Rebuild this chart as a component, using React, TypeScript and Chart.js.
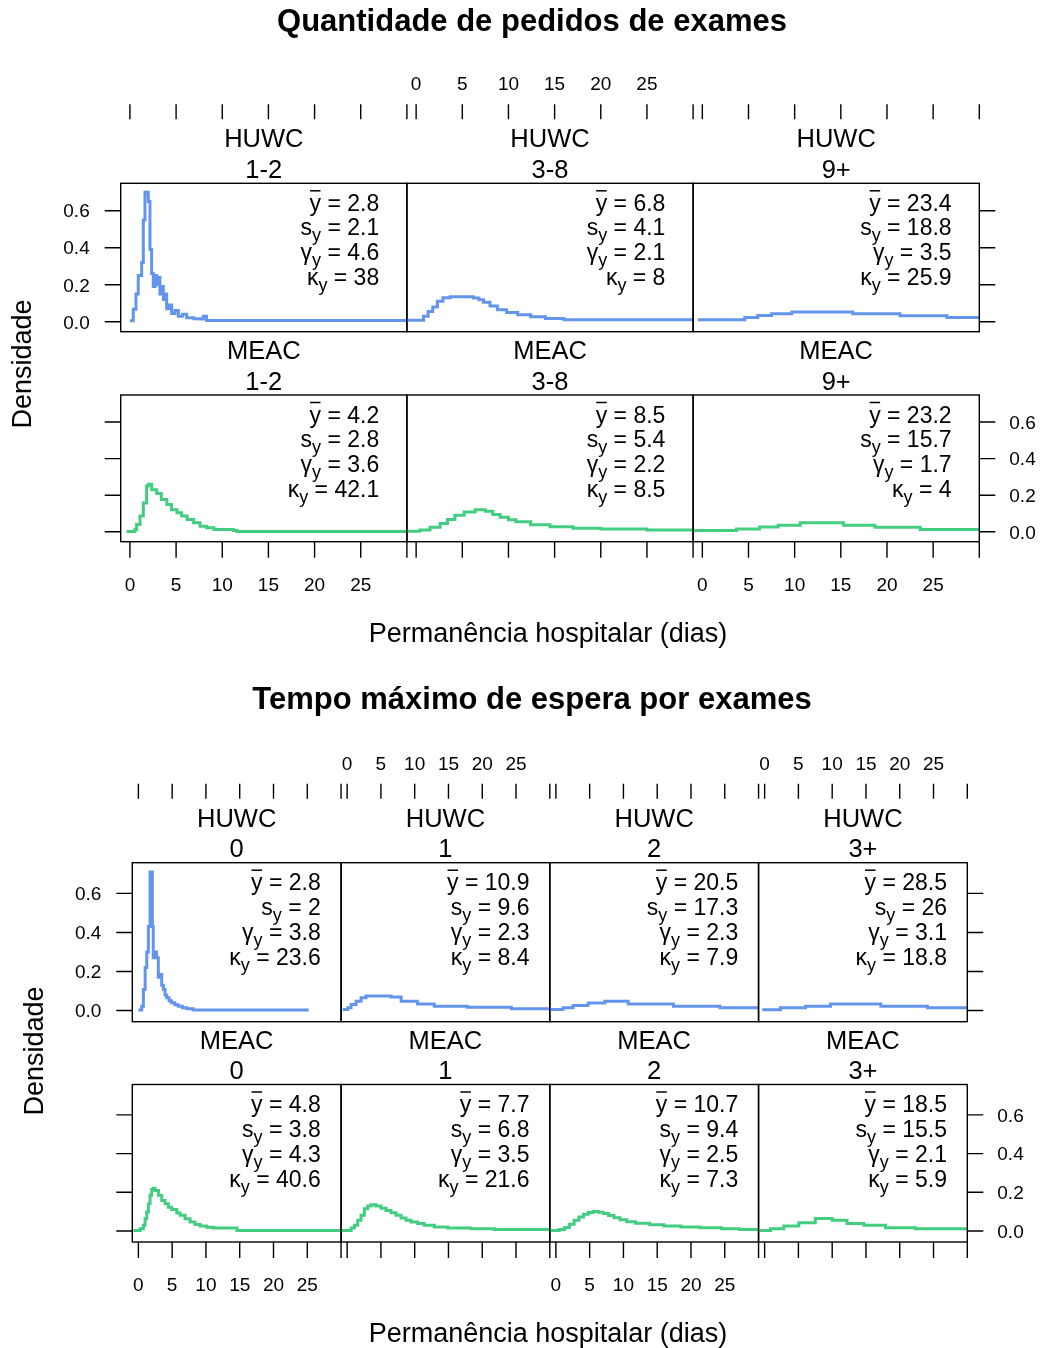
import React, { useEffect, useRef } from "react";
import { Chart, registerables } from "chart.js";

Chart.register(...registerables);

const FONT = '"Liberation Sans", Arial, Helvetica, sans-serif';
const BLUE = "#6495ED";
const GREEN = "#43CD80";

// ---------- categories and labels ----------
const hospitals = ["HUWC", "MEAC"];
const fig1Groups = ["1-2", "3-8", "9+"];
const fig2Groups = ["0", "1", "2", "3+"];
const fig1Title = "Quantidade de pedidos de exames";
const fig2Title = "Tempo máximo de espera por exames";
const xAxisTitle = "Permanência hospitalar (dias)";
const yAxisTitle = "Densidade";
const xTickValues = [0, 5, 10, 15, 20, 25, 30];
const xTickLabels = ["0", "5", "10", "15", "20", "25", ""];
const yTickValues = [0, 0.2, 0.4, 0.6];
const yTickLabels = ["0.0", "0.2", "0.4", "0.6"];
const statTextX = 27;

// ---------- summary statistics ----------
const fig1HuwcMean = [2.8, 6.8, 23.4];
const fig1HuwcSd = [2.1, 4.1, 18.8];
const fig1HuwcSkew = [4.6, 2.1, 3.5];
const fig1HuwcKurt = [38, 8, 25.9];
const fig1MeacMean = [4.2, 8.5, 23.2];
const fig1MeacSd = [2.8, 5.4, 15.7];
const fig1MeacSkew = [3.6, 2.2, 1.7];
const fig1MeacKurt = [42.1, 8.5, 4];

const fig2HuwcMean = [2.8, 10.9, 20.5, 28.5];
const fig2HuwcSd = [2, 9.6, 17.3, 26];
const fig2HuwcSkew = [3.8, 2.3, 2.3, 3.1];
const fig2HuwcKurt = [23.6, 8.4, 7.9, 18.8];
const fig2MeacMean = [4.8, 7.7, 10.7, 18.5];
const fig2MeacSd = [3.8, 6.8, 9.4, 15.5];
const fig2MeacSkew = [4.3, 3.5, 2.5, 2.1];
const fig2MeacKurt = [40.6, 21.6, 7.3, 5.9];

// ---------- density curves (x = dias, y = densidade) ----------
// Figure 1, HUWC
const f1Huwc12X = [0, 0.36, 0.65, 0.9, 1.27, 1.45, 1.63, 1.99, 2.17, 2.35, 2.53, 2.71, 2.89, 3.07, 3.25, 3.44, 3.62, 3.8, 3.98, 4.25, 4.52, 4.88, 5.24, 5.7, 6.15, 6.9, 7.6, 7.95, 8.3, 30];
const f1Huwc12Y = [0.005, 0.068, 0.15, 0.25, 0.32, 0.55, 0.7, 0.65, 0.39, 0.26, 0.19, 0.25, 0.2, 0.24, 0.15, 0.19, 0.12, 0.15, 0.07, 0.09, 0.045, 0.06, 0.03, 0.04, 0.022, 0.016, 0.014, 0.03, 0.006, 0.006];
const f1Huwc38X = [-1, 0.8, 1.3, 1.8, 2.3, 2.9, 3.7, 6.2, 6.8, 7.3, 8.0, 8.8, 9.8, 11, 12.4, 14, 16, 30];
const f1Huwc38Y = [0.008, 0.03, 0.055, 0.08, 0.11, 0.13, 0.135, 0.128, 0.118, 0.105, 0.085, 0.065, 0.05, 0.038, 0.027, 0.018, 0.01, 0.01];
const f1Huwc9X = [-0.5, 4.6, 6.0, 7.5, 9.7, 16.3, 21.4, 26.5, 30];
const f1Huwc9Y = [0.011, 0.023, 0.034, 0.043, 0.052, 0.043, 0.032, 0.023, 0.023];
// Figure 1, MEAC
const f1Meac12X = [-0.36, 0.54, 0.72, 1.09, 1.45, 1.81, 1.99, 2.36, 2.9, 3.4, 4.0, 4.5, 5.1, 5.6, 6.2, 6.9, 7.6, 8.3, 9.1, 11.2, 11.6, 30];
const f1Meac12Y = [0.002, 0.013, 0.04, 0.086, 0.158, 0.25, 0.26, 0.23, 0.21, 0.177, 0.15, 0.12, 0.104, 0.086, 0.067, 0.049, 0.031, 0.022, 0.013, 0.007, 0.002, 0.002];
const f1Meac38X = [-1, 0.4, 1.5, 2.6, 3.4, 4.2, 5.2, 6.4, 7.5, 8.3, 9.1, 10.0, 10.8, 12.4, 14.5, 17, 20, 25, 30];
const f1Meac38Y = [0.003, 0.01, 0.025, 0.045, 0.068, 0.09, 0.108, 0.12, 0.112, 0.095, 0.08, 0.066, 0.055, 0.038, 0.028, 0.02, 0.015, 0.01, 0.01];
const f1Meac9X = [-1, 3.7, 6.2, 8.2, 10.6, 15.3, 18.7, 23.6, 30];
const f1Meac9Y = [0.007, 0.016, 0.027, 0.036, 0.049, 0.036, 0.025, 0.013, 0.013];

// Figure 2, HUWC
const f2Huwc0X = [0, 0.5, 0.74, 1.0, 1.24, 1.48, 1.73, 2.07, 2.2, 2.47, 2.7, 2.95, 3.2, 3.45, 3.7, 3.95, 4.2, 4.55, 4.9, 5.4, 5.9, 6.5, 7.2, 8.1, 25.2];
const f2Huwc0Y = [0.003, 0.022, 0.108, 0.22, 0.3, 0.43, 0.71, 0.43, 0.27, 0.3, 0.27, 0.17, 0.185, 0.13, 0.108, 0.08, 0.065, 0.05, 0.04, 0.03, 0.022, 0.015, 0.009, 0.003, 0.003];
const f2Huwc1X = [-0.66, 0.09, 0.58, 1.32, 2.06, 2.8, 6.5, 8.0, 10.4, 12.9, 17.8, 24.3, 30];
const f2Huwc1Y = [0.005, 0.014, 0.031, 0.048, 0.065, 0.074, 0.069, 0.048, 0.034, 0.022, 0.017, 0.009, 0.009];
const f2Huwc2X = [-0.9, 1.07, 2.55, 4.77, 7.24, 10.7, 17.4, 24.3, 30];
const f2Huwc2Y = [0.005, 0.014, 0.026, 0.039, 0.048, 0.034, 0.022, 0.014, 0.014];
const f2Huwc3X = [-0.36, 2.35, 6.05, 9.75, 17.2, 24.1, 30];
const f2Huwc3Y = [0.004, 0.014, 0.022, 0.034, 0.022, 0.014, 0.014];
// Figure 2, MEAC
const f2Meac0X = [-0.74, 0.25, 0.74, 0.99, 1.24, 1.48, 1.73, 1.97, 2.22, 2.47, 2.97, 3.46, 3.95, 4.44, 4.94, 5.68, 6.17, 6.91, 7.65, 8.39, 9.13, 10.1, 11.1, 14.6, 30];
const f2Meac0Y = [0.003, 0.012, 0.029, 0.063, 0.098, 0.141, 0.184, 0.214, 0.221, 0.209, 0.184, 0.158, 0.141, 0.123, 0.111, 0.093, 0.081, 0.063, 0.046, 0.034, 0.026, 0.019, 0.015, 0.003, 0.003];
const f2Meac1X = [-0.9, 0.58, 1.07, 1.56, 2.06, 2.55, 3.04, 3.54, 4.28, 5.02, 5.76, 6.5, 7.24, 7.98, 8.72, 9.46, 10.45, 11.4, 12.9, 14.9, 18.3, 21.8, 30];
const f2Meac1Y = [0.003, 0.015, 0.029, 0.055, 0.081, 0.115, 0.129, 0.136, 0.129, 0.118, 0.106, 0.094, 0.081, 0.067, 0.055, 0.046, 0.038, 0.029, 0.021, 0.015, 0.012, 0.007, 0.007];
const f2Meac2X = [-0.9, 0.5, 1.3, 2, 2.7, 3.4, 4.1, 4.8, 5.5, 6.3, 7.0, 7.8, 8.6, 9.5, 10.5, 11.8, 13.9, 16, 18.5, 21.3, 24.5, 27.2, 30];
const f2Meac2Y = [0.003, 0.008, 0.018, 0.035, 0.055, 0.072, 0.086, 0.096, 0.1, 0.097, 0.09, 0.08, 0.068, 0.058, 0.048, 0.04, 0.032, 0.026, 0.021, 0.017, 0.012, 0.007, 0.007];
const f2Meac3X = [-0.9, 0.87, 2.84, 5.06, 7.5, 10, 12.2, 14.7, 17.9, 22.3, 30];
const f2Meac3Y = [0.003, 0.012, 0.026, 0.043, 0.064, 0.055, 0.038, 0.029, 0.017, 0.012, 0.012];

// ---------- layout of the two lattice figures (page pixels) ----------
type Fig = {
  top: number; height: number; left: number; panelW: number;
  rowTop: number[]; rowH: number[];
  xMin: number; xMax: number; yMin: number; yMax: number;
  nCols: number; title: string; titleY: number; xlabY: number; ylabX: number; ylabY: number;
};

const FIG1: Fig = {
  top: 0, height: 662, left: 120.7, panelW: 286.2,
  rowTop: [183.3, 395], rowH: [148.4, 146.7],
  xMin: -1, xMax: 30, yMin: -0.054, yMax: 0.748,
  nCols: 3, title: fig1Title, titleY: 31, xlabY: 642, ylabX: 24, ylabY: 364,
};
const FIG2: Fig = {
  top: 662, height: 686, left: 132.3, panelW: 208.75,
  rowTop: [862.7, 1084.5], rowH: [159, 157.5],
  xMin: -0.9, xMax: 30, yMin: -0.057, yMax: 0.757,
  nCols: 4, title: fig2Title, titleY: 709, xlabY: 1342, ylabX: 36, ylabY: 1051,
};

type Panel = {
  fig: Fig; row: number; col: number; xs: number[]; ys: number[]; color: string;
  strip: [string, string]; stats: number[];
};

const fig1Curves = [
  [[f1Huwc12X, f1Huwc12Y], [f1Huwc38X, f1Huwc38Y], [f1Huwc9X, f1Huwc9Y]],
  [[f1Meac12X, f1Meac12Y], [f1Meac38X, f1Meac38Y], [f1Meac9X, f1Meac9Y]],
];
const fig2Curves = [
  [[f2Huwc0X, f2Huwc0Y], [f2Huwc1X, f2Huwc1Y], [f2Huwc2X, f2Huwc2Y], [f2Huwc3X, f2Huwc3Y]],
  [[f2Meac0X, f2Meac0Y], [f2Meac1X, f2Meac1Y], [f2Meac2X, f2Meac2Y], [f2Meac3X, f2Meac3Y]],
];
const fig1Stats = [
  [fig1HuwcMean, fig1HuwcSd, fig1HuwcSkew, fig1HuwcKurt],
  [fig1MeacMean, fig1MeacSd, fig1MeacSkew, fig1MeacKurt],
];
const fig2Stats = [
  [fig2HuwcMean, fig2HuwcSd, fig2HuwcSkew, fig2HuwcKurt],
  [fig2MeacMean, fig2MeacSd, fig2MeacSkew, fig2MeacKurt],
];
const rowColors = [BLUE, GREEN];

const PANELS: Panel[] = [];
[
  { fig: FIG1, groups: fig1Groups, curves: fig1Curves, stats: fig1Stats },
  { fig: FIG2, groups: fig2Groups, curves: fig2Curves, stats: fig2Stats },
].forEach(({ fig, groups, curves, stats }) => {
  hospitals.forEach((h, r) => {
    groups.forEach((g, c) => {
      PANELS.push({
        fig, row: r, col: c,
        xs: curves[r][c][0], ys: curves[r][c][1],
        color: rowColors[r],
        strip: [h, g],
        stats: stats[r].map((arr) => arr[c]),
      });
    });
  });
});

// ---------- drawing helpers ----------
const TICK_FS = 19;
const STRIP_FS = 25.5;
const STAT_FS = 23;
const SUB_FS = 18;
const LAB_FS = 27;
const TITLE_FS = 31;

function drawStat(
  ctx: CanvasRenderingContext2D, xr: number, yb: number,
  sym: string, sub: string, over: boolean, val: number
) {
  const main = `${STAT_FS}px ${FONT}`;
  ctx.font = main;
  ctx.textAlign = "right";
  ctx.textBaseline = "alphabetic";
  const rest = " = " + String(val);
  ctx.fillText(rest, xr, yb);
  let x = xr - ctx.measureText(rest).width;
  if (sub) {
    ctx.font = `${SUB_FS}px ${FONT}`;
    ctx.fillText(sub, x, yb + 6);
    x -= ctx.measureText(sub).width;
    ctx.font = main;
  }
  ctx.fillText(sym, x, yb);
  if (over) {
    const w = ctx.measureText(sym).width;
    ctx.beginPath();
    ctx.lineWidth = 1.5;
    ctx.moveTo(x - w + 0.5, yb - 20);
    ctx.lineTo(x - 0.5, yb - 20);
    ctx.stroke();
  }
}

function makeDeco(p: Panel) {
  return {
    id: "panelDeco",
    afterDatasetsDraw(chart: any) {
      const ctx: CanvasRenderingContext2D = chart.ctx;
      const { left, right, top, bottom } = chart.chartArea;
      const xs = chart.scales.x;
      const ys = chart.scales.y;
      const f = p.fig;
      const lastCol = p.col === f.nCols - 1;
      ctx.save();
      ctx.strokeStyle = "#000";
      ctx.fillStyle = "#000";
      ctx.lineWidth = 1.4;
      ctx.strokeRect(left, top, right - left, bottom - top);

      // ticks
      ctx.beginPath();
      xTickValues.forEach((v) => {
        const px = xs.getPixelForValue(v);
        if (p.row === 0) {
          ctx.moveTo(px, top - 64);
          ctx.lineTo(px, top - 79);
        } else {
          ctx.moveTo(px, bottom);
          ctx.lineTo(px, bottom + 16);
        }
      });
      yTickValues.forEach((v) => {
        const py = ys.getPixelForValue(v);
        if (p.col === 0) {
          ctx.moveTo(left, py);
          ctx.lineTo(left - 16, py);
        }
        if (lastCol) {
          ctx.moveTo(right, py);
          ctx.lineTo(right + 16, py);
        }
      });
      ctx.stroke();

      // tick labels
      ctx.font = `${TICK_FS}px ${FONT}`;
      ctx.textBaseline = "alphabetic";
      if (p.row === 0 && p.col % 2 === 1) {
        ctx.textAlign = "center";
        xTickValues.forEach((v, i) => ctx.fillText(xTickLabels[i], xs.getPixelForValue(v), top - 93));
      }
      if (p.row === 1 && p.col % 2 === 0) {
        ctx.textAlign = "center";
        xTickValues.forEach((v, i) => ctx.fillText(xTickLabels[i], xs.getPixelForValue(v), bottom + 49));
      }
      if (p.row === 0 && p.col === 0) {
        ctx.textAlign = "right";
        yTickValues.forEach((v, i) => ctx.fillText(yTickLabels[i], left - 31, ys.getPixelForValue(v) + 6.8));
      }
      if (p.row === 1 && lastCol) {
        ctx.textAlign = "left";
        yTickValues.forEach((v, i) => ctx.fillText(yTickLabels[i], right + 30, ys.getPixelForValue(v) + 6.8));
      }

      // strip text
      const cx = (left + right) / 2;
      ctx.font = `${STRIP_FS}px ${FONT}`;
      ctx.textAlign = "center";
      ctx.fillText(p.strip[0], cx, top - 36);
      ctx.fillText(p.strip[1], cx, top - 5.5);

      // statistics
      const xr = xs.getPixelForValue(statTextX);
      const syms: [string, string, boolean][] = [["y", "", true], ["s", "y", false], ["γ", "y", false], ["κ", "y", false]];
      const offs = [27.5, 52, 77, 102];
      syms.forEach((s, i) => drawStat(ctx, xr, top + offs[i], s[0], s[1], s[2], p.stats[i]));

      // figure-level texts
      if (p.row === 0 && p.col === 0) {
        ctx.textAlign = "center";
        ctx.font = `bold ${TITLE_FS}px ${FONT}`;
        ctx.fillText(f.title, 532, f.titleY - f.top);
        ctx.font = `${LAB_FS}px ${FONT}`;
        ctx.fillText(xAxisTitle, 548, f.xlabY - f.top);
        ctx.save();
        ctx.translate(f.ylabX, f.ylabY - f.top);
        ctx.rotate(-Math.PI / 2);
        ctx.textBaseline = "middle";
        ctx.fillText(yAxisTitle, 0, 0);
        ctx.restore();
      }
      ctx.restore();
    },
  };
}

function buildConfig(p: Panel): any {
  const f = p.fig;
  const left = f.left + p.col * f.panelW;
  const right = left + f.panelW;
  const top = f.rowTop[p.row] - f.top;
  const bottom = top + f.rowH[p.row];
  return {
    type: "line",
    data: {
      datasets: [
        {
          data: p.xs.map((x, i) => ({ x, y: p.ys[i] })),
          borderColor: p.color,
          borderWidth: 3,
          pointRadius: 0,
          stepped: true,
          fill: false,
          borderJoinStyle: "miter",
          borderCapStyle: "butt",
        },
      ],
    },
    options: {
      animation: false,
      responsive: false,
      maintainAspectRatio: false,
      events: [],
      layout: { padding: { left, top, right: 1045 - right, bottom: f.height - bottom } },
      scales: {
        x: { type: "linear", display: false, min: f.xMin, max: f.xMax, bounds: "data" },
        y: { type: "linear", display: false, min: f.yMin, max: f.yMax, bounds: "data" },
      },
      plugins: { legend: { display: false }, tooltip: { enabled: false } },
    },
    plugins: [makeDeco(p)],
  };
}

export default function App() {
  const refs = useRef<(HTMLCanvasElement | null)[]>([]);
  useEffect(() => {
    const charts = PANELS.map((p, i) => new Chart(refs.current[i] as HTMLCanvasElement, buildConfig(p)));
    return () => charts.forEach((c) => c.destroy());
  }, []);
  return (
    <div style={{ position: "absolute", left: 0, top: 0, width: 1045, height: 1348, background: "#fff" }}>
      {PANELS.map((p, i) => (
        <canvas
          key={i}
          ref={(el) => {
            refs.current[i] = el;
          }}
          width={1045}
          height={p.fig.height}
          style={{ position: "absolute", left: 0, top: p.fig.top, width: 1045, height: p.fig.height }}
        />
      ))}
    </div>
  );
}
